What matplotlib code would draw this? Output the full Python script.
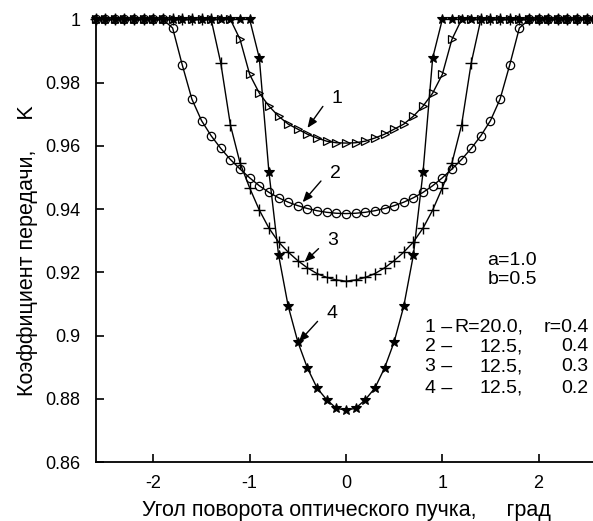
import numpy as np
import matplotlib
matplotlib.use("Agg")
import matplotlib.pyplot as plt

plt.rcParams['font.family'] = ['Liberation Sans', 'DejaVu Sans']

# angle of the optical beam, deg (sampled every 0.1)
angle = np.round(np.arange(-26, 27) / 10, 1)

k1 = [1.0] * 15 + [0.9937, 0.9826, 0.9767, 0.9726, 0.9694, 0.9669, 0.9653, 0.9637,
                   0.9625, 0.9615, 0.9610, 0.9609, 0.9610, 0.9615, 0.9625, 0.9637,
                   0.9653, 0.9669, 0.9694, 0.9726, 0.9767, 0.9826, 0.9937] + [1.0] * 15
k2 = [1.0] * 8 + [0.9973, 0.9856, 0.9748, 0.9680, 0.9632, 0.9592, 0.9557, 0.9527,
                  0.9499, 0.9474, 0.9453, 0.9436, 0.9422, 0.9411, 0.9402, 0.9395,
                  0.9390, 0.9387, 0.9386, 0.9387, 0.9390, 0.9395, 0.9402, 0.9411,
                  0.9422, 0.9436, 0.9453, 0.9474, 0.9499, 0.9527, 0.9557, 0.9592,
                  0.9632, 0.9680, 0.9748, 0.9856, 0.9973] + [1.0] * 8
k3 = [1.0] * 13 + [0.9862, 0.9666, 0.9546, 0.9467, 0.9397, 0.9340, 0.9296, 0.9264,
                   0.9237, 0.9214, 0.9196, 0.9184, 0.9176, 0.9172, 0.9176, 0.9184,
                   0.9196, 0.9214, 0.9237, 0.9264, 0.9296, 0.9340, 0.9397, 0.9467,
                   0.9546, 0.9666, 0.9862] + [1.0] * 13
k4 = [1.0] * 17 + [0.9878, 0.9517, 0.9255, 0.9093, 0.8980, 0.8897, 0.8834, 0.8797,
                   0.8770, 0.8764, 0.8770, 0.8797, 0.8834, 0.8897, 0.8980, 0.9093,
                   0.9255, 0.9517, 0.9878] + [1.0] * 17

curve_labels = ['1', '2', '3', '4']
label_pos = [(-0.09, 0.975), (-0.11, 0.9514), (-0.135, 0.930), (-0.145, 0.907)]
arrow_tip = [(-0.40, 0.9657), (-0.45, 0.9422), (-0.43, 0.9233), (-0.49, 0.898)]

y_ticks = [0.86, 0.88, 0.90, 0.92, 0.94, 0.96, 0.98, 1.0]
y_ticklabels = ['0.86', '0.88', '0.9', '0.92', '0.94', '0.96', '0.98', '1']
x_ticks = [-2, -1, 0, 1, 2]

fig = plt.figure(figsize=(5.93, 5.21), dpi=100)
ax = fig.add_axes([0.1612, 0.1132, 0.8445, 0.8494])

ax.plot(angle, k2, color='black', lw=1.0, marker='o', ms=6, mfc='none', mew=0.9, clip_on=False)
ax.plot(angle, k3, color='black', lw=1.0, marker='+', ms=9, mew=1.0, clip_on=False)
ax.plot(angle, k1, color='black', lw=1.0, marker='>', ms=6, mfc='none', mew=0.9, clip_on=False)
ax.plot(angle, k4, color='black', lw=1.0, marker='*', ms=7.5, mew=0.8, clip_on=False)

fs = 14
for lab, (tx, ty), (ax_, ay) in zip(curve_labels, label_pos, arrow_tip):
    ax.text(tx, ty, lab, fontsize=fs, ha='center', va='center')
    ax.annotate('', xy=(ax_, ay), xytext=(tx - 0.15, ty - 0.0025),
                arrowprops=dict(arrowstyle='-|>,head_length=0.6,head_width=0.25',
                                color='black', lw=1.0, shrinkA=0, shrinkB=0))

ax.text(1.47, 0.9239, 'a=1.0', fontsize=fs, va='center', ha='left')
ax.text(1.47, 0.9177, 'b=0.5', fontsize=fs, va='center', ha='left')
rows_y = [0.9027, 0.8964, 0.8901, 0.8834]
col1 = ['1 \u2013', '2 \u2013', '3 \u2013', '4 \u2013']
col2 = ['R=20.0,', '12.5,', '12.5,', '12.5,']
col3 = ['r=0.4', '0.4', '0.3', '0.2']
for y, a, b, c in zip(rows_y, col1, col2, col3):
    ax.text(0.82, y, a, fontsize=fs, va='center', ha='left')
    ax.text(1.84, y, b, fontsize=fs, va='center', ha='right')
    ax.text(2.52, y, c, fontsize=fs, va='center', ha='right')

ax.set_xlim(-2.6, 2.6)
ax.set_ylim(0.86, 1.0)
ax.set_xticks(x_ticks)
ax.set_xticklabels([str(t) for t in x_ticks])
ax.set_yticks(y_ticks)
ax.set_yticklabels(y_ticklabels)
ax.tick_params(direction='in', length=6, width=1.2, labelsize=13)
ax.tick_params(axis='x', pad=9)
ax.tick_params(axis='y', pad=11)
for s in ['top', 'right']:
    ax.spines[s].set_visible(False)
for s in ['left', 'bottom']:
    ax.spines[s].set_linewidth(1.3)

ax.set_xlabel('Угол поворота оптического пучка,     град', fontsize=15.5, labelpad=6)
ax.set_ylabel('Коэффициент передачи,     K', fontsize=15.5, labelpad=5, y=0.478)

fig.savefig('out.png', dpi=100)
